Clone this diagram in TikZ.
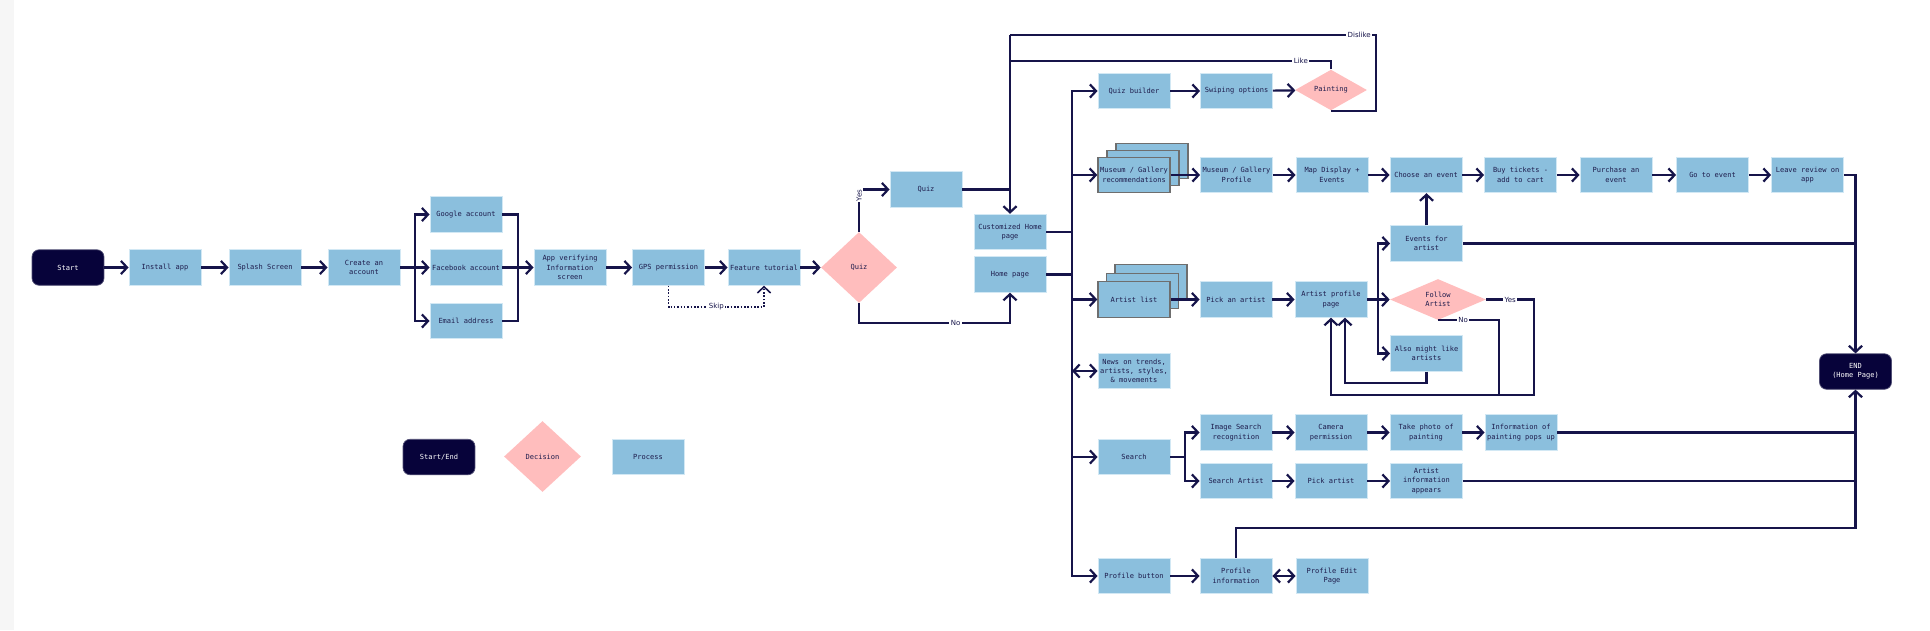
\documentclass[tikz,border=0pt]{standalone}
\usepackage{fontspec}
\usetikzlibrary{arrows.meta,shapes.geometric,calc}
\newfontfamily\boxfont{DejaVu Sans Mono}
\newfontfamily\labfont{DejaVu Sans}
\definecolor{procblue}{HTML}{8BBFDD}
\definecolor{procedge}{HTML}{D2E8F4}
\definecolor{termnavy}{HTML}{07033A}
\definecolor{linecol}{HTML}{16144A}
\definecolor{txtcol}{HTML}{1E1C4C}
\definecolor{decpink}{HTML}{FFBDBD}
\definecolor{stackedge}{HTML}{6E6E6E}
\definecolor{marginc}{HTML}{F6F6F6}
\begin{document}
\begin{tikzpicture}[x=0.02cm,y=-0.02cm,
  every node/.style={font={\boxfont\fontsize{4}{5.3}\selectfont}, text=txtcol},
  proc/.style={rectangle, fill=procblue, draw=procedge, line width=0.5pt, minimum width=1.44cm, minimum height=0.71cm, inner sep=1pt, align=center},
  stackbox/.style={proc, draw=stackedge, line width=0.8pt},
  term/.style={rectangle, rounded corners=4pt, fill=termnavy, draw=termnavy!70!white, line width=0.4pt, minimum width=1.44cm, minimum height=0.71cm, text=white, align=center},
  dec/.style={diamond, fill=decpink, inner sep=0pt, align=center},
  conn/.style={draw=linecol, line width=1.25pt},
  arr/.style={conn, -{Straight Barb[length=3.5pt,width=7.5pt]}},
  darr/.style={conn, {Straight Barb[length=3.5pt,width=7.5pt]}-{Straight Barb[length=3.5pt,width=7.5pt]}},
  trunk/.style={conn, line cap=rect},
  lbl/.style={fill=white, inner sep=0.8pt, font={\labfont\fontsize{4}{5}\selectfont}, text=linecol},
]
\useasboundingbox (0,0) rectangle (1930,630);
\fill[white] (0,0) rectangle (1930,630);
\fill[marginc] (0,0) rectangle (14,630);

% ---------- left part ----------
\node[term] (start) at (68,267.5) {Start};
\node[proc] (install) at (165,267.5) {Install app};
\node[proc] (splash) at (265,267.5) {Splash Screen};
\node[proc] (create) at (364,267.5) {Create an\\account};
\node[proc] (google) at (466,214.5) {Google account};
\node[proc] (facebook) at (466,267.5) {Facebook account};
\node[proc] (email) at (466,321) {Email address};
\node[proc] (verify) at (570,267.5) {App verifying\\Information\\screen};
\node[proc] (gps) at (668.5,267.5) {GPS permission};
\node[proc] (tutorial) at (764,267.5) {Feature tutorial};
\node[dec, minimum width=1.52cm, minimum height=1.42cm] (qdec) at (859,267.5) {Quiz};
\node[proc] (quiz) at (926,189.5) {Quiz};
\node[proc] (custom) at (1010,232) {Customized Home\\page};
\node[proc] (home) at (1010,274.5) {Home page};

% ---------- top rows ----------
\node[proc] (qbuilder) at (1134,91) {Quiz builder};
\node[proc] (swipe) at (1236.5,91) {Swiping options};
\node[dec, minimum width=1.44cm, minimum height=0.68cm] (paint) at (1331,90) {Painting};

\node[stackbox] (mus3) at (1152,161) {};
\node[stackbox] (mus2) at (1143,168) {};
\node[stackbox] (museum) at (1134,175) {Museum / Gallery\\recommendations};
\node[proc] (mgprofile) at (1236.5,175) {Museum / Gallery\\Profile};
\node[proc] (map) at (1332,175) {Map Display +\\Events};
\node[proc] (choose) at (1426,175) {Choose an event};
\node[proc] (buy) at (1520.5,175) {Buy tickets -\\add to cart};
\node[proc] (purchase) at (1616,175) {Purchase an\\event};
\node[proc] (goevent) at (1712.5,175) {Go to event};
\node[proc] (review) at (1807.5,175) {Leave review on\\app};

% ---------- artist rows ----------
\node[stackbox] (art3) at (1151,282.5) {};
\node[stackbox] (art2) at (1142.5,291) {};
\node[stackbox] (artistlist) at (1134,299.5) {Artist list};
\node[proc] (pickartist) at (1236,299.5) {Pick an artist};
\node[proc] (aprofile) at (1331,299.5) {Artist profile\\page};
\node[proc] (events) at (1426.5,243.5) {Events for\\artist};
\node[dec, minimum width=1.92cm, minimum height=0.82cm] (follow) at (1438,299.5) {Follow\\Artist};
\node[proc] (alsolike) at (1426.5,353.5) {Also might like\\artists};
\node[proc] (news) at (1134,371) {News on trends,\\artists, styles,\\\& movements};

% ---------- search rows ----------
\node[proc] (search) at (1134,457) {Search};
\node[proc] (imgsearch) at (1236,432.5) {Image Search\\recognition};
\node[proc] (camera) at (1331,432.5) {Camera\\permission};
\node[proc] (photo) at (1426,432.5) {Take photo of\\painting};
\node[proc] (infopop) at (1521,432.5) {Information of\\painting pops up};
\node[proc] (searchartist) at (1236,481) {Search Artist};
\node[proc] (pickartist2) at (1331,481) {Pick artist};
\node[proc] (artistinfo) at (1426.5,481) {Artist\\information\\appears};

% ---------- profile row ----------
\node[proc] (profbtn) at (1134,576) {Profile button};
\node[proc] (profinfo) at (1236,576) {Profile\\information};
\node[proc] (profedit) at (1332,576) {Profile Edit\\Page};

\node[term] (end) at (1855.5,371.5) {END\\(Home Page)};

% ---------- legend ----------
\node[term] (lgterm) at (439,457) {Start/End};
\node[dec, minimum width=1.54cm, minimum height=1.42cm] (lgdec) at (542.5,456.5) {Decision};
\node[proc] (lgproc) at (648,457) {Process};

% ---------- connectors: left ----------
\draw[arr] (start) -- (install);
\draw[arr] (install) -- (splash);
\draw[arr] (splash) -- (create);
\coordinate (br1) at (415,267.5);
\draw[conn] (create) -- (br1);
\draw[arr] (br1) |- (google);
\draw[arr] (br1) -- (facebook);
\draw[arr] (br1) |- (email);
\coordinate (mg1) at (518,267.5);
\draw[conn] (google) -| (mg1);
\draw[conn] (email) -| (mg1);
\draw[arr] (facebook) -- (verify);
\draw[arr] (verify) -- (gps);
\draw[arr] (gps) -- (tutorial);
\draw[arr] (tutorial) -- (qdec);
\coordinate (sk) at (716,307);
\draw[conn, line width=0.9pt, densely dotted, -{Straight Barb[length=3.5pt,width=7.5pt]}]
  (gps.south) -- (gps.south |- sk) -- node[lbl]{Skip} (tutorial.south |- sk) -- (tutorial.south);
\draw[arr] (qdec.north) -- node[lbl, rotate=90, pos=0.86]{Yes} (qdec.north |- quiz) -- (quiz);
\coordinate (noy) at (0,323);
\draw[arr] (qdec.south) -- (qdec.south |- noy) -- node[lbl, pos=0.64]{No} (home.south |- noy) -- (home.south);
\coordinate (topL) at (1010,35);
\coordinate (lk) at (1010,61);
\coordinate (dk) at (1376,35);
\draw[conn] (quiz) -- (quiz -| custom);
\draw[arr] (topL) -- (custom);
\draw[conn] (paint.south) -| (dk) -- node[lbl, pos=0.046]{Dislike} (topL);
\draw[conn] (paint.north) |- node[lbl, pos=0.547]{Like} (lk);

% ---------- main trunk ----------
\coordinate (mvTop) at (1072,91);
\coordinate (mvBot) at (1072,576);
\draw[conn] (custom) -- (custom -| mvTop);
\draw[conn] (home) -- (home -| mvTop);
\draw[trunk] (mvTop) -- (mvBot);
\draw[arr] (mvTop) -- (qbuilder);
\draw[arr] (mvTop |- museum) -- (museum);
\draw[arr] (mvTop |- artistlist) -- (artistlist);
\draw[darr] (mvTop |- news) -- (news);
\draw[arr] (mvTop |- search) -- (search);
\draw[arr] (mvBot) -- (profbtn);

% ---------- quiz builder / museum rows ----------
\draw[arr] (qbuilder) -- (swipe);
\draw[arr] (swipe) -- (paint);
\draw[arr] (museum) -- (mgprofile);
\draw[arr] (mgprofile) -- (map);
\draw[arr] (map) -- (choose);
\draw[arr] (choose) -- (buy);
\draw[arr] (buy) -- (purchase);
\draw[arr] (purchase) -- (goevent);
\draw[arr] (goevent) -- (review);
\draw[arr] (review) -| (end);

% ---------- artist rows ----------
\draw[arr] (artistlist) -- (pickartist);
\draw[arr] (pickartist) -- (aprofile);
\coordinate (br2) at (1378,299.5);
\draw[conn] (aprofile) -- (br2);
\draw[arr] (br2) -- (follow);
\draw[arr] (br2) |- (events);
\draw[arr] (br2) |- (alsolike);
\draw[arr] (events.north) -- (events.north |- choose.south);
\draw[conn] (events) -- (events -| end);
\coordinate (yy) at (1534,395);
\draw[arr] (follow.east) -- node[lbl]{Yes} (follow.east -| yy) -- (yy) -- (yy -| aprofile) -- (aprofile.south);
\coordinate (nn) at (1499,395);
\draw[conn] (follow.south) -- node[lbl, pos=0.41]{No} (follow.south -| nn) -- (nn);
\coordinate (ax) at (1345,383);
\draw[arr] (alsolike.south) -- (alsolike.south |- ax) -- (ax) -- (ax |- aprofile.south);

% ---------- search rows ----------
\coordinate (br3) at (1185,457);
\draw[conn] (search) -- (br3);
\draw[arr] (br3) |- (imgsearch);
\draw[arr] (br3) |- (searchartist);
\draw[arr] (imgsearch) -- (camera);
\draw[arr] (camera) -- (photo);
\draw[arr] (photo) -- (infopop);
\draw[conn] (infopop) -- (infopop -| end);
\draw[arr] (searchartist) -- (pickartist2);
\draw[arr] (pickartist2) -- (artistinfo);
\draw[conn] (artistinfo) -- (artistinfo -| end);

% ---------- profile row ----------
\draw[arr] (profbtn) -- (profinfo);
\draw[darr] (profinfo) -- (profedit);
\coordinate (pf) at (1236,528);
\draw[arr] (profinfo.north) -- (pf) -- (pf -| end) -- (end.south);
\end{tikzpicture}
\end{document}
